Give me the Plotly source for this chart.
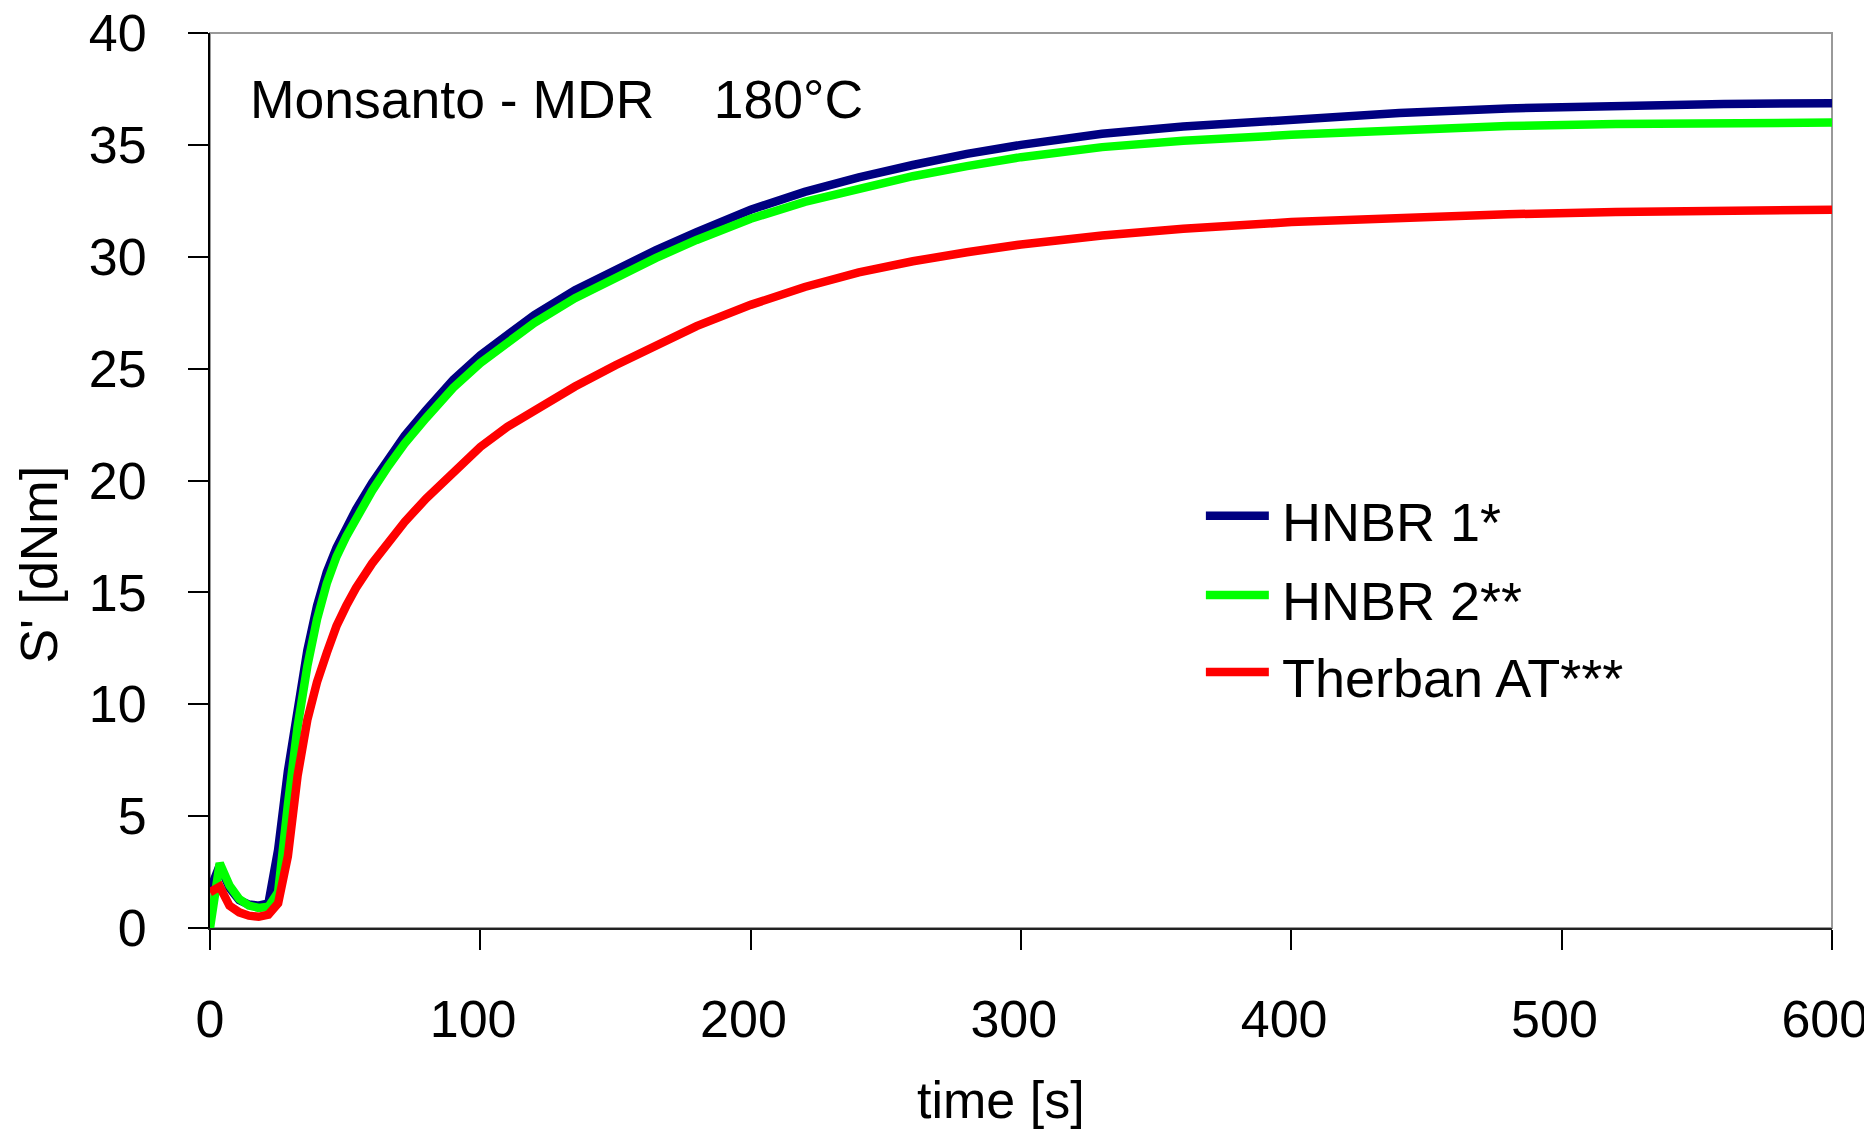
import plotly.graph_objects as go

# ---- data ----
time_s = [0, 3.6, 7.2, 10.8, 14.4, 18, 21.6, 25.2, 28.8, 32.4, 36, 39.6, 43.2, 46.8,
          50.4, 54, 60, 66, 72, 80, 90, 100, 110, 120, 135, 150, 165, 180, 200, 220,
          240, 260, 280, 300, 330, 360, 400, 440, 480, 520, 560, 600]

hnbr1 = [1.7, 2.8, 1.8, 1.25, 1.05, 1.0, 1.1, 3.5, 7.0, 10.0, 12.4, 14.4, 15.9, 17.0,
         17.9, 18.7, 19.9, 21.0, 22.0, 23.15, 24.5, 25.6, 26.55, 27.4, 28.5, 29.45, 30.3, 31.1,
         32.1, 32.9, 33.55, 34.1, 34.6, 35.0, 35.5, 35.82, 36.15, 36.42, 36.63, 36.76, 36.83, 36.86]

hnbr2 = [0.0, 2.9, 1.9, 1.3, 1.0, 0.9, 0.95, 1.6, 5.5, 9.0, 11.7, 13.8, 15.4, 16.6,
         17.5, 18.3, 19.55, 20.65, 21.65, 22.8, 24.15, 25.25, 26.2, 27.05, 28.15, 29.1, 29.95, 30.75,
         31.7, 32.45, 33.05, 33.6, 34.05, 34.45, 34.9, 35.18, 35.45, 35.68, 35.84, 35.93, 35.98, 36.0]

therban = [1.6, 1.85, 1.0, 0.7, 0.55, 0.5, 0.6, 1.1, 3.2, 6.8, 9.3, 11.0, 12.3, 13.5,
           14.4, 15.2, 16.3, 17.3, 18.15, 19.2, 20.4, 21.5, 22.4, 23.15, 24.2, 25.15, 26.05, 26.9,
           27.85, 28.65, 29.3, 29.8, 30.2, 30.55, 30.95, 31.25, 31.55, 31.75, 31.9, 32.0, 32.05, 32.1]

series_names = ["HNBR 1*", "HNBR 2**", "Therban AT***"]
series_values = [hnbr1, hnbr2, therban]
series_colors = ["#000080", "#00FF00", "#FF0000"]

x_ticks = [0, 100, 200, 300, 400, 500, 600]
x_tick_labels = ["0", "100\u00a0", "200\u00a0", "300\u00a0", "400\u00a0", "500\u00a0", "600\u00a0"]
y_ticks = [0, 5, 10, 15, 20, 25, 30, 35, 40]

FONT = "Liberation Sans, Arial, sans-serif"
FS = 52
LW = 8.5

# page body has an 8px default margin; figure sized so plot area lands where the reference has it
W, H = 1864, 1124
OFF = 8
PL, PR, PT, PB = 209.5, 1832.5, 33, 928  # plot area in screen pixels
PW, PH = PR - PL, PB - PT


def px(xs):
    return (xs - PL) / PW


def py(ys):
    return (PB - ys) / PH


fig = go.Figure()
for name, vals, col in zip(series_names, series_values, series_colors):
    fig.add_trace(go.Scatter(x=time_s, y=vals, mode="lines", name=name,
                             line=dict(color=col, width=LW), showlegend=False))

axis_common = dict(showgrid=False, zeroline=False, automargin=False,
                   tickfont=dict(family=FONT, size=FS, color="black"),
                   tickcolor="black", tickwidth=2, ticklen=20)

fig.update_layout(
    width=W, height=H,
    paper_bgcolor="white", plot_bgcolor="white",
    margin=dict(l=PL - OFF, r=W - (PR - OFF), t=PT - OFF, b=H - (PB - OFF), autoexpand=False),
    font=dict(family=FONT, size=FS, color="black"),
    showlegend=False,
    xaxis=dict(range=[0, 600], tickvals=x_ticks, ticktext=x_tick_labels, ticks="outside",
               showline=True, linecolor="#222", linewidth=2, ticklabelstandoff=25,
               ticklabeloverflow="allow", **axis_common),
    yaxis=dict(range=[0, 40], tickvals=y_ticks, ticks="outside", showline=True,
               linecolor="black", linewidth=2, ticklabelstandoff=31,
               ticklabeloverflow="allow", **axis_common),
    xaxis2=dict(range=[0, 600], tickvals=x_ticks, ticks="inside", overlaying="x", anchor="y",
                side="bottom", showticklabels=False, showline=False, **axis_common),
    yaxis2=dict(range=[0, 40], tickvals=y_ticks, ticks="inside", overlaying="y", anchor="x",
                side="left", showticklabels=False, showline=False, **axis_common),
)

# gray frame on top/right
fig.add_shape(type="rect", xref="paper", yref="paper", x0=0, x1=1, y0=0, y1=1,
              line=dict(color="#999999", width=2), layer="below")

# titles
fig.add_annotation(text="Monsanto - MDR\u00a0\u00a0\u00a0\u00a0180°C", xref="paper", yref="paper",
                   x=px(248), y=py(99), xanchor="left", yanchor="middle", showarrow=False,
                   font=dict(family=FONT, size=53.5, color="black"))
fig.add_annotation(text="time [s]", xref="paper", yref="paper", x=px(1001),
                   y=py(1100), xanchor="center", yanchor="middle", showarrow=False,
                   font=dict(family=FONT, size=FS, color="black"))
fig.add_annotation(text="S' [dNm]", xref="paper", yref="paper", x=px(38),
                   y=py(565), xanchor="center", yanchor="middle", showarrow=False,
                   textangle=-90, font=dict(family=FONT, size=FS, color="black"))

# legend (manual, matching the reference layout)
leg_line_y = [515.7, 595, 672]
for name, col, ly in zip(series_names, series_colors, leg_line_y):
    fig.add_shape(type="line", xref="paper", yref="paper",
                  x0=px(1206), x1=px(1269), y0=py(ly), y1=py(ly),
                  line=dict(color=col, width=LW))
    fig.add_annotation(text=name, xref="paper", yref="paper", x=px(1280),
                       y=py(ly + 6), xanchor="left", yanchor="middle", showarrow=False,
                       font=dict(family=FONT, size=54, color="black"))

fig.write_html("out.html")
